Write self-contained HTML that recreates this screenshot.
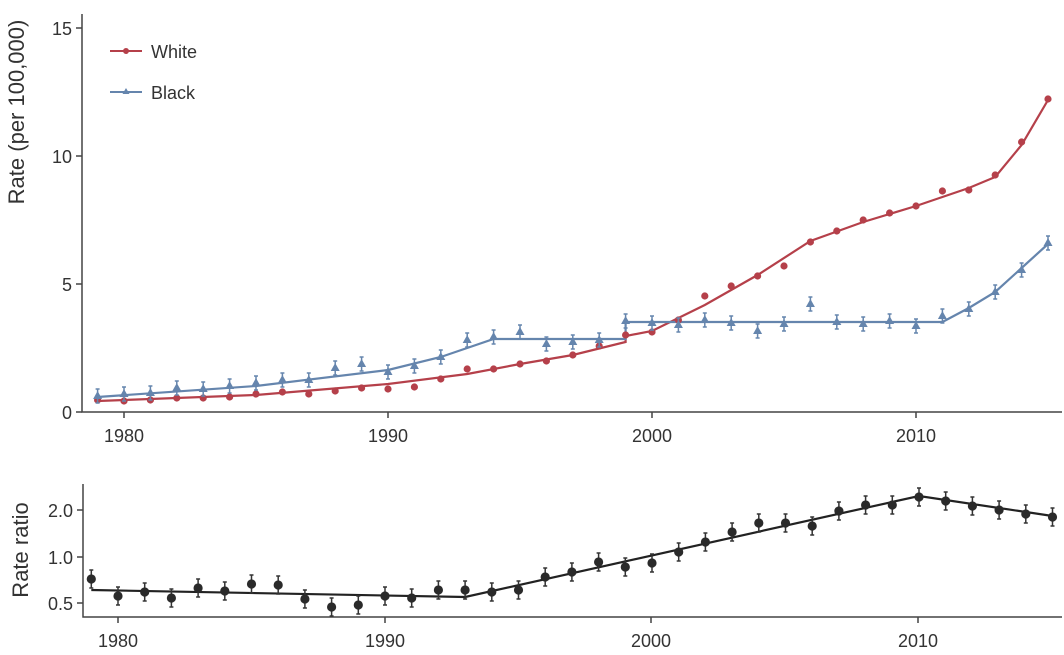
<!DOCTYPE html>
<html><head><meta charset="utf-8"><style>body{margin:0;background:#fff}svg{display:block;font-family:"Liberation Sans",sans-serif}</style></head>
<body>
<svg id="s" width="1064" height="655" xmlns="http://www.w3.org/2000/svg">
<g stroke="#444" stroke-width="1.5" fill="none">
<path d="M82,14V412H1062"/>
<path d="M76,28H82M76,156H82M76,284H82M76,412H82M124,412v6M388,412v6M652,412v6M916,412v6"/>
<path d="M83,484V617H1062"/>
<path d="M77,510H83M77,557H83M77,603H83M118,617v6M385,617v6M651,617v6M918,617v6"/>
</g>
<g font-size="18" fill="#333" text-anchor="end">
<text x="72" y="35">15</text><text x="72" y="163">10</text><text x="72" y="291">5</text><text x="72" y="419">0</text>
<text x="73" y="517">2.0</text><text x="73" y="564">1.0</text><text x="73" y="610">0.5</text>
</g>
<g font-size="18" fill="#333" text-anchor="middle">
<text x="124" y="442">1980</text><text x="388" y="442">1990</text><text x="652" y="442">2000</text><text x="916" y="442">2010</text>
<text x="118" y="647">1980</text><text x="385" y="647">1990</text><text x="651" y="647">2000</text><text x="918" y="647">2010</text>
</g>
<text transform="translate(24,112) rotate(-90)" font-size="22" fill="#333" text-anchor="middle">Rate (per 100,000)</text>
<text transform="translate(28,550) rotate(-90)" font-size="22" fill="#333" text-anchor="middle">Rate ratio</text>
<g font-size="18" fill="#333"><text x="151" y="58">White</text><text x="151" y="99">Black</text></g>
<path d="M110,51H142" stroke-width="2" fill="none" stroke="#b5404a"/>
<path d="M110,92H142" stroke-width="2" stroke="#6585ad"/>
<circle cx="126" cy="51" r="3" fill="#b5404a"/><path d="M126,88l3.5,6h-7z" fill="#6585ad"/>
<g id="g"></g>
</svg>
<script>
var g=document.getElementById('g'),h='';
function tx(y){return 124+(y-1980)*26.4}
function bx(y){return 118+(y-1980)*26.7}
var W=[400,401,400,398,398,397,394,392,394,391,388,389,387,379,369,369,364,361,355,346,335,332,320,296,286,276,266,242,231,220,213,206,191,190,175,142,99];
var B=[396,394,393,388,389,386,383,380,380,368,364,372,366,357,340,337,332,344,342,340,321,323,325,320,323,331,324,304,322,324,321,326,316,309,292,270,243];
var R=[579,596,592,598,588,591,584,585,599,607,605,596,598,590,590,592,590,577,572,562,567,563,552,542,532,523,523,526,511,505,505,497,501,506,510,514,517];
function pl(pts,f,c,w){return '<polyline fill="none" stroke="'+c+'" stroke-width="'+w+'" points="'+pts.map(function(p){return f(p[0])+','+p[1]}).join(' ')+'"/>'}
h+=pl([[1979,401],[1985,395],[1990,384],[1993,374],[1995,364],[1997,355],[1999,342],[1999,336],[2000,331],[2002,305],[2004,275],[2006,241],[2008,222],[2010,206],[2012,188],[2013,177],[2014,145],[2015,100]],tx,'#b5404a',2.2);
h+=pl([[1979,397],[1985,386],[1990,370],[1992,357],[1994,339],[1999,339],[1999,322],[2011,322],[2012,308],[2013,292],[2014,268],[2015,244]],tx,'#6585ad',2.2);
h+=pl([[1979,590],[1993,597],[2010,496],[2015,516]],bx,'#222',2.2);
for(var i=0;i<37;i++){var yr=1979+i,x=tx(yr);
h+='<circle cx="'+x+'" cy="'+W[i]+'" r="3.6" fill="#b5404a"/>';
h+='<path d="M'+x+','+(B[i]-7)+'v14M'+(x-2)+','+(B[i]-7)+'h4M'+(x-2)+','+(B[i]+7)+'h4" stroke="#6585ad" stroke-width="1.5"/><path d="M'+x+','+(B[i]-5)+'l4.5,8h-9z" fill="#6585ad"/>';
var X=bx(yr);h+='<path d="M'+X+','+(R[i]-9)+'v18M'+(X-2)+','+(R[i]-9)+'h4M'+(X-2)+','+(R[i]+9)+'h4" stroke="#333" stroke-width="1.5"/><circle cx="'+X+'" cy="'+R[i]+'" r="4.6" fill="#2a2a2a"/>';}
g.innerHTML=h;
</script>
</body></html>
